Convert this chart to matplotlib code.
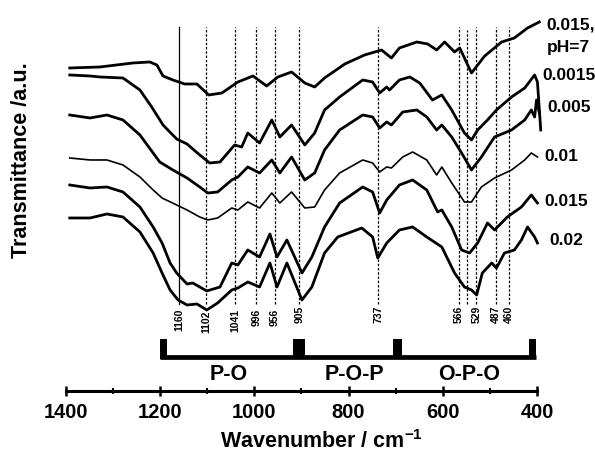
"""FTIR spectra of the phosphate glasses, stacked by concentration."""
import matplotlib; matplotlib.use("Agg")
import matplotlib.pyplot as plt
from matplotlib.patches import Rectangle
from matplotlib.ticker import MultipleLocator

plt.rcParams["font.family"] = "Liberation Sans"
plt.rcParams["font.weight"] = "bold"
plt.rcParams["mathtext.fontset"] = "custom"
plt.rcParams["mathtext.rm"] = "Liberation Sans:bold"
plt.rcParams["mathtext.bf"] = "Liberation Sans:bold"

# spectra (wavenumber cm-1, stacked transmittance a.u.), top to bottom
wn_ph7 = [1392,1328,1258,1222,1207,1194,1173,1148,1122,1097,1069,1035,1003,974,950,921,893,872,851,808,
          766,730,709,692,655,632,613,596,575,564,539,511,475,448,420,395]
t_ph7 = [3.32,3.33,3.37,3.38,3.35,3.24,3.20,3.16,3.16,3.05,3.07,3.18,3.24,3.14,3.23,3.28,3.17,3.13,3.22,3.36,
         3.45,3.50,3.42,3.52,3.58,3.56,3.50,3.58,3.48,3.52,3.27,3.44,3.58,3.62,3.72,3.78]
wn_0015 = [1392,1349,1328,1279,1243,1218,1194,1165,1143,1116,1095,1073,1042,1027,1014,989,963,946,921,893,
           872,851,819,770,749,734,719,713,692,670,649,622,602,581,554,539,526,505,486,454,426,405,399,392]
t_0015 = [3.25,3.24,3.23,3.22,3.10,2.93,2.75,2.61,2.56,2.45,2.37,2.38,2.55,2.53,2.67,2.57,2.80,2.63,2.75,2.55,
          2.67,2.90,3.03,3.20,3.18,3.07,3.13,3.10,3.20,3.23,3.17,3.00,3.05,2.90,2.67,2.60,2.70,2.80,2.90,3.03,
          3.12,3.25,3.18,2.70]
wn_005 = [1392,1349,1313,1279,1243,1215,1201,1173,1143,1116,1099,1078,1048,1035,1014,989,963,946,921,893,
          872,851,819,770,749,734,719,709,685,655,634,613,602,581,560,539,518,490,454,426,412,405,401,395]
t_005 = [2.85,2.82,2.85,2.80,2.65,2.47,2.38,2.30,2.22,2.13,2.07,2.08,2.20,2.23,2.33,2.27,2.40,2.27,2.43,2.20,
         2.27,2.50,2.70,2.85,2.83,2.72,2.78,2.75,2.88,2.90,2.83,2.70,2.75,2.63,2.47,2.30,2.43,2.63,2.70,2.80,
         2.90,2.83,3.00,2.87]
wn_01 = [1392,1349,1313,1279,1243,1215,1196,1165,1143,1116,1099,1078,1048,1035,1014,989,963,946,921,893,
         872,851,819,770,749,734,719,709,685,664,634,613,602,581,554,539,518,490,454,426,412,399]
t_01 = [2.42,2.40,2.40,2.35,2.23,2.10,2.02,1.95,1.90,1.83,1.80,1.82,1.92,1.90,1.98,1.92,2.07,1.97,2.08,1.92,
        1.93,2.10,2.27,2.40,2.37,2.28,2.33,2.32,2.43,2.48,2.40,2.25,2.33,2.17,1.98,1.98,2.13,2.22,2.30,2.40,
        2.47,2.43]
wn_015 = [1392,1349,1313,1279,1243,1215,1196,1179,1165,1143,1131,1101,1073,1048,1035,1014,989,967,952,931,
          899,878,851,819,770,749,734,719,692,664,634,611,602,581,560,543,526,505,490,463,433,412,399]
t_015 = [2.15,2.12,2.13,2.08,1.93,1.73,1.57,1.37,1.27,1.16,1.17,1.09,1.13,1.37,1.35,1.50,1.43,1.66,1.43,1.60,
         1.27,1.43,1.73,1.97,2.13,2.08,1.87,2.00,2.15,2.20,2.10,1.88,1.90,1.73,1.50,1.47,1.57,1.77,1.70,1.83,
         1.93,2.05,1.97]
wn_02 = [1392,1349,1313,1279,1243,1215,1196,1179,1162,1143,1122,1101,1078,1048,1035,1014,989,967,952,931,
         899,878,851,823,772,749,738,719,692,664,634,602,575,554,539,528,516,496,486,469,448,433,420,405,399]
t_02 = [1.82,1.82,1.86,1.83,1.68,1.47,1.27,1.10,1.00,0.95,0.96,0.90,0.97,1.10,1.12,1.18,1.13,1.37,1.13,1.37,
        1.00,1.13,1.47,1.63,1.72,1.63,1.42,1.57,1.70,1.73,1.63,1.53,1.27,1.13,1.10,1.05,1.27,1.37,1.32,1.47,
        1.50,1.60,1.73,1.63,1.57]

series = [(wn_ph7, t_ph7), (wn_0015, t_0015), (wn_005, t_005), (wn_01, t_01), (wn_015, t_015), (wn_02, t_02)]
conc_labels = ["0.015,\npH=7", "0.0015", "0.005", "0.01", "0.015", "0.02"]
lab_x = [379, 388, 378, 384, 384, 373]
lab_y = [3.635, 3.24, 2.92, 2.43, 1.98, 1.59]
widths = [2.0, 2.0, 2.0, 1.2, 2.0, 2.0]

peaks = [1160, 1102, 1041, 996, 956, 905, 737, 566, 529, 487, 460]
peak_lab_y = [0.91, 0.89, 0.91, 0.91, 0.91, 0.94, 0.94, 0.94, 0.94, 0.94, 0.94]
extra_line = 548  # unlabelled shoulder between 566 and 529

groups = ["P-O", "P-O-P", "O-P-O"]
group_x = [1054, 787, 543]
block_spans = [(1200, 1186), (918, 893), (706, 687), (416, 403)]

fig = plt.figure(figsize=(5.95, 4.53), dpi=100)
ax = fig.add_axes([0.1030, 0.1358, 0.8153, 0.8532])
ax.set_xlim(1410, 380); ax.set_ylim(0.085, 3.95)

for (w, t), lw in zip(series, widths):
    ax.plot(w, t, color="black", lw=lw, solid_joinstyle="round")
for txt, x, y in zip(conc_labels, lab_x, lab_y):
    ax.text(x, y, txt, fontsize=12.5, fontweight="bold", ha="left", va="center", linespacing=1.65)

# band markers
for i, p in enumerate(peaks):
    ax.plot([p, p], [0.96, 3.73], color="black", lw=0.9,
            ls="-" if i == 0 else (0, (2.0, 1.4)))
    ax.text(p, peak_lab_y[i], str(p), rotation=90, fontsize=7.5, fontweight="bold",
            ha="center", va="top")
ax.plot([extra_line, extra_line], [0.96, 3.70], color="black", lw=0.9, ls=(0, (2.0, 1.4)))

# assignment bracket
ax.plot([1200, 403], [0.43, 0.43], color="black", lw=3.4, solid_capstyle="butt")
for a, b in block_spans:
    ax.add_patch(Rectangle((b, 0.41), a - b, 0.20, color="black", lw=0))
for g, x in zip(groups, group_x):
    ax.text(x, 0.25, g, fontsize=15.5, fontweight="bold", ha="center", va="center")

for s in ("left", "right", "top"):
    ax.spines[s].set_visible(False)
ax.spines["bottom"].set_linewidth(2.2)
ax.spines["bottom"].set_bounds(400, 1400)
ax.set_yticks([])
ax.set_xticks(range(400, 1401, 200))
ax.xaxis.set_minor_locator(MultipleLocator(100))
ax.tick_params(axis="x", which="major", direction="inout", length=7, width=1.8, pad=5, labelsize=14.5)
ax.tick_params(axis="x", which="minor", direction="inout", length=5, width=1.5)
for lbl in ax.get_xticklabels():
    lbl.set_fontweight("bold")

fig.text(321 / 595, 1 - 442 / 453, r"Wavenumber / cm$^{\mathbf{-1}}$", fontsize=15.5,
         fontweight="bold", ha="center", va="center")
fig.text(22 / 595, 1 - 160 / 453, "Transmittance /a.u.", fontsize=15.5, fontweight="bold",
         rotation=90, ha="center", va="center")

fig.savefig("out.png", dpi=100)
